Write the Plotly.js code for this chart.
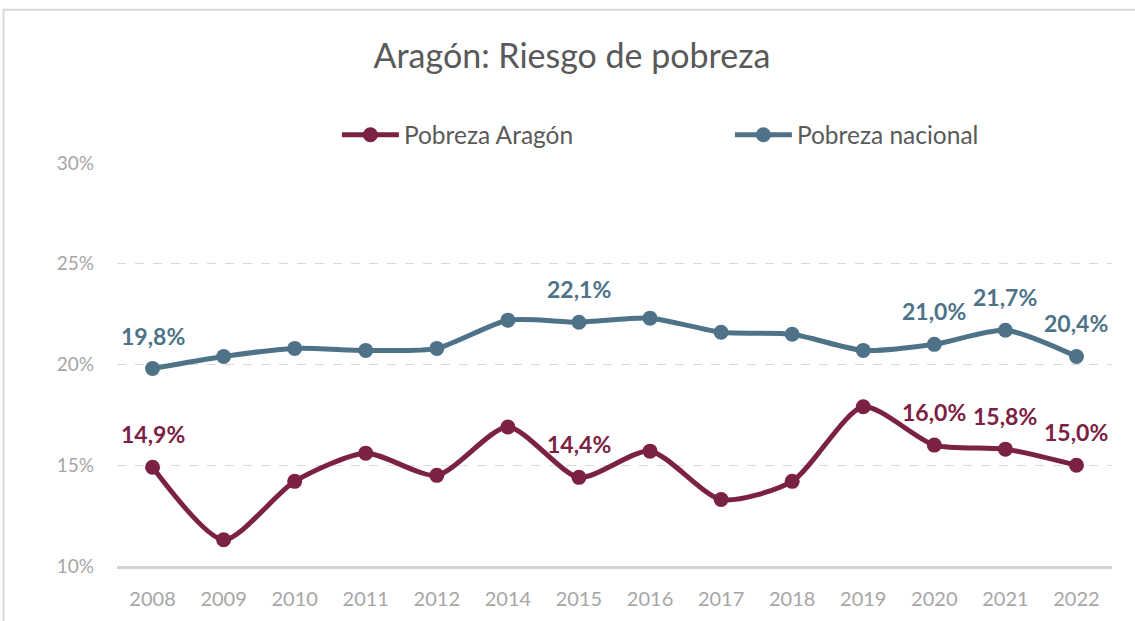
<!DOCTYPE html>
<html><head><meta charset="utf-8">
<script src="https://cdn.plot.ly/plotly-3.0.1.min.js"></script>
<style>html,body{margin:0;padding:0;background:#fff}#chart{width:1135px;height:621px}</style>
</head><body><div id="chart"></div>
<script>
const years = ["2008","2009","2010","2011","2012","2014","2015","2016","2017","2018","2019","2020","2021","2022"];
const aragon = [14.9,11.3,14.2,15.6,14.5,16.9,14.4,15.7,13.3,14.2,17.9,16.0,15.8,15.0];
const nacional = [19.8,20.4,20.8,20.7,20.8,22.2,22.1,22.3,21.6,21.5,20.7,21.0,21.7,20.4];
const aragonLabels = ["14,9%","","","","","","14,4%","","","","","16,0%","15,8%","15,0%"];
const nacionalLabels = ["19,8%","","","","","","22,1%","","","","","21,0%","21,7%","20,4%"];
const yTicks = [10,15,20,25,30];
const yTickText = ["10%","15%","20%","25%","30%"];

const cA = "#7B2143", cN = "#4E7389";
const FONT = "Lato, 'Open Sans', sans-serif";

const traces = [
  {x: years, y: aragon, name: "Pobreza Aragón", type: "scatter", mode: "lines+markers",
   line: {color: cA, width: 5, shape: "spline", smoothing: 0.7}, marker: {color: cA, size: 15},
   cliponaxis: false, hoverinfo: "x+y"},
  {x: years, y: nacional, name: "Pobreza nacional", type: "scatter", mode: "lines+markers",
   line: {color: cN, width: 5, shape: "spline", smoothing: 0.7}, marker: {color: cN, size: 15},
   cliponaxis: false, hoverinfo: "x+y"}
];

const annotations = [];
function addLabels(vals, labels, color) {
  labels.forEach((t, i) => {
    if (!t) return;
    annotations.push({x: i, y: vals[i], xref: "x", yref: "y", text: "<b>" + t + "</b>", showarrow: false,
      yanchor: "middle", xanchor: "center", yshift: 33,
      font: {color: color, size: 23, family: FONT}});
  });
}
addLabels(aragon, aragonLabels, cA);
addLabels(nacional, nacionalLabels, cN);

const layout = {
  width: 1135, height: 621,
  margin: {l: 117, r: 19, t: 163, b: 55},
  paper_bgcolor: "#fff", plot_bgcolor: "rgba(0,0,0,0)",
  font: {family: FONT, color: "#595959"},
  title: {text: "Aragón: Riesgo de pobreza", font: {size: 34, color: "#595959", family: FONT},
          x: 0.504, xref: "container", y: 0.91, yanchor: "middle"},
  showlegend: true,
  legend: {orientation: "h", x: 0.221, xanchor: "left", y: 1.07, yanchor: "middle",
           font: {size: 24.5, color: "#595959", family: FONT}, entrywidth: 321, itemwidth: 57,
           bgcolor: "rgba(0,0,0,0)"},
  xaxis: {type: "category", range: [-0.5, 13.5], autorange: false, showgrid: false, zeroline: false,
          showline: true, linecolor: "#d4d4d4", linewidth: 3,
          ticks: "", tickfont: {size: 20, color: "#a6a6a6", family: FONT}, ticklabelstandoff: 13},
  yaxis: {range: [10, 30], autorange: false, tickvals: yTicks, ticktext: yTickText, showgrid: true,
          gridcolor: "#d9d9d9", griddash: "dash", gridwidth: 1, zeroline: false, showline: false,
          ticks: "", tickfont: {size: 19, color: "#a6a6a6", family: FONT}, ticklabelstandoff: 22},
  annotations: annotations,
  shapes: [
    {type: "rect", xref: "paper", yref: "paper", x0: -0.114, x1: 1.03, y0: -0.2, y1: 1.38,
     line: {color: "#d9d9d9", width: 2}, fillcolor: "rgba(0,0,0,0)", layer: "below"}
  ]
};

Plotly.newPlot("chart", traces, layout, {displayModeBar: false, staticPlot: true});
</script></body></html>
